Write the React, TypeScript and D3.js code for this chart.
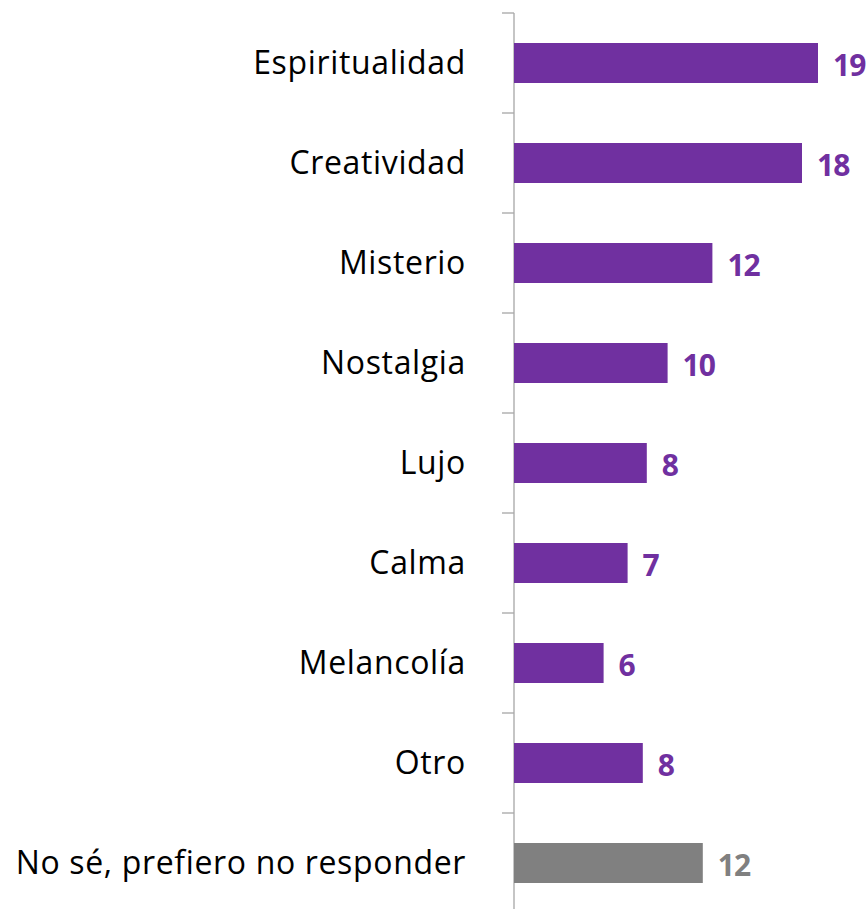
import React from "react";
import * as d3 from "d3";

const categories = [
  "Espiritualidad",
  "Creatividad",
  "Misterio",
  "Nostalgia",
  "Lujo",
  "Calma",
  "Melancolía",
  "Otro",
  "No sé, prefiero no responder",
];
const values = [19.0, 18.0, 12.4, 9.6, 8.3, 7.1, 5.6, 8.05, 11.8];
const valueLabels = ["19", "18", "12", "10", "8", "7", "6", "8", "12"];
const highlight = [true, true, true, true, true, true, true, true, false];

const W = 868;
const H = 909;
const PURPLE = "#7030A0";
const GRAY = "#808080";
const FONT = "'Open Sans', 'Noto Sans', sans-serif";

export default function App() {
  const x0 = 514;
  const y = d3.scaleBand<string>().domain(categories).range([13, 913]).paddingInner(0.6).paddingOuter(0.3);
  const x = d3.scaleLinear().domain([0, 19]).range([x0, 818]);
  const bw = y.bandwidth();
  const step = y.step();
  const ticks = d3.range(categories.length).map((i) => 13 + i * step);

  return (
    <svg
      width={W}
      height={H}
      viewBox={`0 0 ${W} ${H}`}
      style={{ position: "absolute", left: 0, top: 0, display: "block", background: "#fff" }}
    >
      <g>
        <line x1={x0} x2={x0} y1={13} y2={H} stroke="#A6A6A6" strokeWidth={1.3} />
        {ticks.map((t, i) => (
          <line key={i} x1={x0 - 12} x2={x0} y1={t} y2={t} stroke="#A6A6A6" strokeWidth={1.3} />
        ))}
      </g>
      {categories.map((c, i) => {
        const yc = (y(c) as number) + bw / 2;
        const col = highlight[i] ? PURPLE : GRAY;
        return (
          <g key={c}>
            <rect x={x(0)} y={y(c)} width={x(values[i]) - x(0)} height={bw} fill={col} />
            <text
              x={466}
              y={yc + 10.5}
              textAnchor="end"
              fontFamily={FONT}
              fontSize={32}
              letterSpacing={0.65}
              fill="#000"
            >
              {c}
            </text>
            <text
              x={x(values[i]) + 15}
              y={yc + 13}
              fontFamily={FONT}
              fontSize={30}
              fontWeight={700}
              letterSpacing={-1}
              fill={col}
            >
              {valueLabels[i]}
            </text>
          </g>
        );
      })}
    </svg>
  );
}
